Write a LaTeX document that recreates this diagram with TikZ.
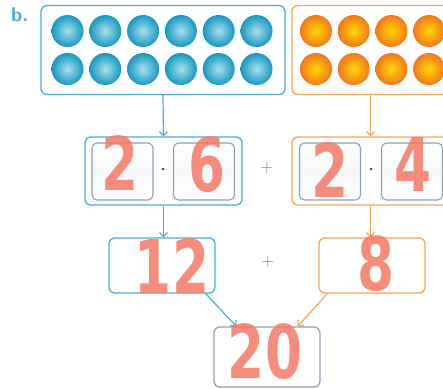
\documentclass[tikz,border=0pt]{standalone}
\usepackage{fontspec}
\newfontfamily\handfont{DejaVu Sans}
\usetikzlibrary{arrows.meta,calc}
\definecolor{cblue}{RGB}{70,176,214}
\definecolor{cblueL}{RGB}{170,222,238}
\definecolor{cblueD}{RGB}{22,152,192}
\definecolor{corange}{RGB}{247,165,80}
\definecolor{corangeD}{RGB}{242,120,30}
\definecolor{cyellow}{RGB}{255,214,0}
\definecolor{cgrey}{RGB}{140,160,182}
\definecolor{chand}{RGB}{245,120,100}
\definecolor{cplus}{RGB}{110,130,170}
\tikzset{
  box/.style={draw, line width=1.3pt, rounded corners=6pt, minimum width=#1, inner sep=0pt},
  bluebox/.style={box=#1, draw=cblue},
  orangebox/.style={box=#1, draw=corange},
  innerbox/.style={draw=cgrey, line width=1.1pt, rounded corners=5pt, minimum width=61pt, minimum height=57pt, inner sep=0pt, top color=white, bottom color=white, middle color=cgrey!8},
  blueball/.style={circle, minimum size=32pt, inner sep=0pt, shading=radial, inner color=cblueL, outer color=cblueD},
  orangeball/.style={circle, minimum size=32pt, inner sep=0pt, shading=radial, inner color=cyellow, outer color=corangeD},
  arr/.style={line width=1.2pt, -{Straight Barb[length=4pt,width=8pt]}},
  hand/.style={text=chand, opacity=0.85, font=\handfont\bfseries\fontsize{74}{74}\selectfont, inner sep=0pt, xscale=0.72, transform shape},
  dotm/.style={circle, fill=black!70, minimum size=3pt, inner sep=0pt},
  plusm/.style={text=cplus, font=\sffamily\fontsize{18}{18}\selectfont, inner sep=0pt}
}
\begin{document}
\begin{tikzpicture}[x=1pt,y=-1pt]
\clip (0,0) rectangle (443,388);
\fill[white] (0,0) rectangle (443,388);
\node[text=cblue, font=\sffamily\bfseries\fontsize{20}{20}\selectfont, anchor=north west, inner sep=0pt] (lab) at (11,7) {b.};
% top boxes
\node[bluebox=244pt, minimum height=89pt] (bt) at (163,50) {};
\node[orangebox=244pt, minimum height=89pt] (ot) at (414,50) {};
\foreach \i in {0,...,5} {
  \node[blueball] (bb1\i) at ({67.5+37.8*\i},31) {};
  \node[blueball] (bb2\i) at ({67.5+37.8*\i},69) {};
  \node[orangeball] (ob1\i) at ({316+37.7*\i},31) {};
  \node[orangeball] (ob2\i) at ({316+37.7*\i},69) {};
}
% row 2
\node[bluebox=157pt, minimum height=68pt] (b2) at (163.5,171) {};
\node[innerbox] (b2a) at (122.5,171.5) {};
\node[innerbox] (b2b) at (204,171.5) {};
\node[dotm] (b2d) at (163,169) {};
\node[orangebox=157pt, minimum height=68pt] (o2) at (370.5,171) {};
\node[innerbox] (o2a) at (330,171.5) {};
\node[innerbox] (o2b) at (412,171.5) {};
\node[dotm] (o2d) at (371,169) {};
\node[plusm] (p1) at (267,168) {+};
% row 3
\node[bluebox=106pt, minimum height=55pt] (b3) at (162,265.5) {};
\node[orangebox=106pt, minimum height=55pt] (o3) at (372,265.5) {};
\node[plusm] (p2) at (268,262) {+};
\node[box=106pt, draw=cgrey, minimum height=60pt] (res) at (267,357) {};
% arrows
\draw[arr, draw=cblue] (bt.south) -- (b2.north);
\draw[arr, draw=corange] (ot.south -| o2.north) -- (o2.north);
\draw[arr, draw=cblue] (b2.south) -- (b3.north -| b2.south);
\draw[arr, draw=corange] (o2.south) -- (o3.north -| o2.south);
\draw[arr, draw=cblue] ([xshift=-10pt]b3.south east) -- ([xshift=23pt]res.north west);
\draw[arr, draw=corange] ([xshift=9pt]o3.south west) -- ([xshift=-23pt]res.north east);
% handwritten answers
\node[hand] (h1) at (120,163) {2};
\node[hand] (h2) at (207,165) {6};
\node[hand] (h3) at (330,170) {2};
\node[hand] (h4) at (413,165) {4};
\node[hand] (h5) at (172,266) {12};
\node[hand] (h6) at (376,264) {8};
\node[hand] (h7) at (265,352) {20};
\end{tikzpicture}
\end{document}
